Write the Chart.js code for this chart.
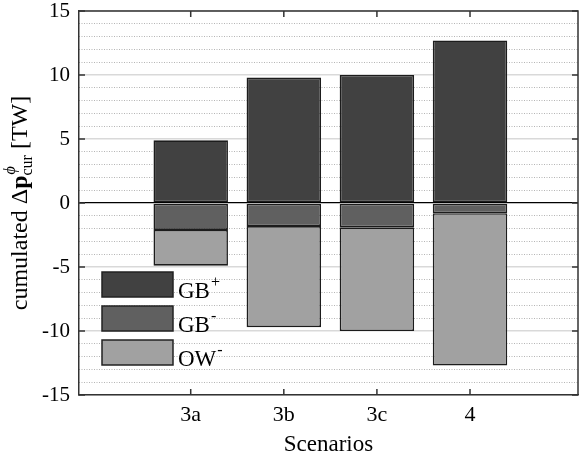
<!DOCTYPE html>
<html>
<head>
<meta charset="utf-8">
<script src="https://cdn.jsdelivr.net/npm/chart.js@4.4.0/dist/chart.umd.min.js"></script>
<style>html,body{margin:0;padding:0;background:#fff}</style>
</head>
<body>
<canvas id="myChart" width="579" height="460"></canvas>
<script>
// values
const categories = ["3a", "3b", "3c", "4"];
const gbPlus = [4.9, 9.8, 10.0, 12.7];
const gbMinus = [-2.1, -1.8, -1.9, -0.8];
const owMinus = [-2.8, -7.9, -8.1, -11.9];
const yTicks = [-15, -10, -5, 0, 5, 10, 15];
const legendNames = [["GB", "+"], ["GB", "-"], ["OW", "-"]];

const SERIF = "'Liberation Serif', 'DejaVu Serif', serif";
const colors = ["#414141", "#606060", "#a1a1a1"];

function pts(arr) {
  return arr.map((v, i) => ({ x: i, y: v }));
}

// box, inward ticks
const framePlugin = {
  id: "frame",
  afterDraw(chart) {
    const { ctx, chartArea: a, scales } = chart;
    ctx.save();
    ctx.strokeStyle = "#333";
    ctx.lineWidth = 1.5;
    ctx.beginPath();
    ctx.moveTo(a.left, a.top);
    ctx.lineTo(a.right, a.top);
    ctx.lineTo(a.right, a.bottom);
    ctx.stroke();
    ctx.beginPath();
    categories.forEach((c, i) => {
      const x = scales.x.getPixelForValue(i);
      ctx.moveTo(x, a.bottom); ctx.lineTo(x, a.bottom - 6);
      ctx.moveTo(x, a.top); ctx.lineTo(x, a.top + 6);
    });
    yTicks.forEach(v => {
      const y = scales.y.getPixelForValue(v);
      ctx.moveTo(a.left, y); ctx.lineTo(a.left + 6, y);
      ctx.moveTo(a.right, y); ctx.lineTo(a.right - 6, y);
    });
    ctx.stroke();
    ctx.restore();
  }
};

// legend inside the axes, with superscripts
const legendPlugin = {
  id: "innerLegend",
  afterDraw(chart) {
    const { ctx, chartArea: a } = chart;
    ctx.save();
    const x0 = a.left + 23, y0 = 272, w = 71, h = 25, step = 34;
    chart.data.datasets.forEach((ds, i) => {
      const y = y0 + i * step;
      ctx.fillStyle = ds.backgroundColor;
      ctx.fillRect(x0, y, w, h);
      ctx.strokeStyle = "#222";
      ctx.lineWidth = 1.5;
      ctx.strokeRect(x0, y, w, h);
      const [base, sup] = legendNames[i];
      ctx.fillStyle = "#000";
      ctx.textBaseline = "alphabetic";
      ctx.font = "23px " + SERIF;
      ctx.fillText(base, x0 + w + 5, y + h + 1);
      const bw = ctx.measureText(base).width;
      ctx.font = "16px " + SERIF;
      ctx.fillText(sup, x0 + w + 5 + bw + 1, y + h - 10);
    });
    ctx.restore();
  }
};

// rotated y title with bold p, sub and superscript
const yTitlePlugin = {
  id: "yTitle",
  afterDraw(chart) {
    const { ctx, chartArea: a } = chart;
    const big = "24px " + SERIF, bold = "bold 24px " + SERIF, small = "16px " + SERIF;
    const parts = [
      { t: "cumulated ", f: big, dy: 0 },
      { t: "\u0394", f: big, dy: 0 },
      { t: "p", f: bold, dy: 0 },
      { t: "cur", f: small, dy: 5, sup: "\u03d5" },
      { t: " [TW]", f: big, dy: 0 }
    ];
    ctx.save();
    let total = 0;
    parts.forEach(p => { ctx.font = p.f; p.w = ctx.measureText(p.t).width; total += p.w; });
    ctx.translate(27, (a.top + a.bottom) / 2);
    ctx.rotate(-Math.PI / 2);
    ctx.fillStyle = "#000";
    ctx.textBaseline = "alphabetic";
    let x = -total / 2;
    parts.forEach(p => {
      ctx.font = p.f;
      ctx.fillText(p.t, x, p.dy);
      if (p.sup) {
        ctx.font = "italic " + small;
        ctx.fillText(p.sup, x + 1, -12);
      }
      x += p.w;
    });
    ctx.restore();
  }
};

const ctx = document.getElementById("myChart");

new Chart(ctx, {
  type: "bar",
  data: {
    datasets: [
      { label: "GB+", data: pts(gbPlus), backgroundColor: colors[0] },
      { label: "GB-", data: pts(gbMinus), backgroundColor: colors[1] },
      { label: "OW-", data: pts(owMinus), backgroundColor: colors[2] }
    ].map(d => Object.assign(d, {
      borderColor: "#1c1c1c",
      borderWidth: 1.6,
      borderSkipped: false,
      inflateAmount: 0,
      barPercentage: 0.8,
      categoryPercentage: 1.0,
      yAxisID: "y"
    }))
  },
  options: {
    responsive: false,
    devicePixelRatio: 1,
    animation: false,
    layout: { padding: { top: 0, right: 1, left: 0, bottom: 0 } },
    plugins: { legend: { display: false }, tooltip: { enabled: false } },
    scales: {
      x: {
        type: "linear",
        min: -1.2,
        max: 4.16,
        offset: false,
        stacked: true,
        grid: { display: false, drawTicks: false },
        border: { display: true, color: "#333", width: 1.5 },
        afterBuildTicks: s => { s.ticks = categories.map((c, i) => ({ value: i })); },
        ticks: {
          callback: v => categories[v],
          font: { family: SERIF, size: 22, lineHeight: 1 },
          color: "#000",
          padding: 9,
          maxRotation: 0,
          autoSkip: false
        },
        title: {
          display: true,
          text: "Scenarios",
          font: { family: SERIF, size: 23, lineHeight: 1 },
          color: "#000",
          padding: { top: 4 }
        },
        afterFit: s => { s.height = 65; }
      },
      y: {
        min: -15,
        max: 15,
        stacked: true,
        afterBuildTicks: s => { s.ticks = yTicks.map(v => ({ value: v })); },
        ticks: {
          font: { family: SERIF, size: 21, lineHeight: 1 },
          color: "#000",
          padding: 9
        },
        grid: {
          drawTicks: false,
          color: c => (c.tick && c.tick.value === 0 ? "#000" : "#d9d9d9"),
          lineWidth: c => (c.tick && c.tick.value === 0 ? 1.3 : 1.5)
        },
        border: { display: true, color: "#333", width: 1.5 },
        afterFit: s => { s.width = 79; s.paddingTop = 11; s.paddingBottom = 11; }
      },
      yMinor: {
        position: "left",
        min: -15,
        max: 15,
        ticks: { display: false, stepSize: 1 },
        grid: {
          drawTicks: false,
          color: c => (c.tick && c.tick.value % 5 === 0 ? "rgba(0,0,0,0)" : "#b5b5b5"),
          lineWidth: 1
        },
        border: { display: false, dash: [1, 1.5] },
        afterFit: s => { s.width = 0; }
      }
    }
  },
  plugins: [framePlugin, legendPlugin, yTitlePlugin]
});
</script>
</body>
</html>
